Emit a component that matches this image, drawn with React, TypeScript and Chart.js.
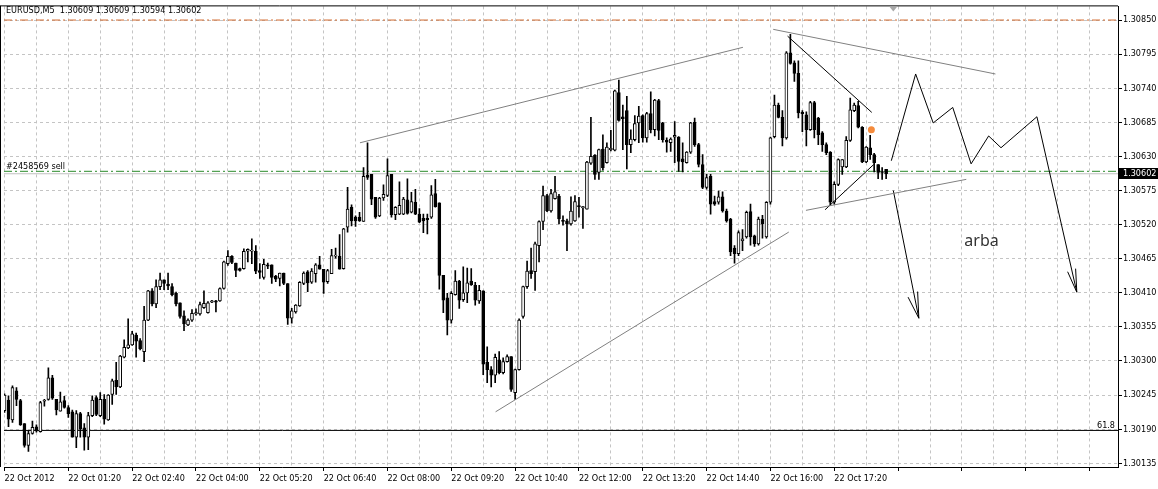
import React, { useEffect, useRef } from 'react';
import { Chart, registerables } from 'chart.js';

Chart.register(...registerables);

// ---------- texts ----------
const symbolTitle = 'EURUSD,M5  1.30609 1.30609 1.30594 1.30602';
const orderLabel = '#2458569 sell';
const noteText = 'arba';
const fibLabel = '61.8';

// ---------- candles (M5 bars, index 0 = 22 Oct 00:00) ----------
const opens = [
  1.30220,1.30237,1.30205,1.30252,1.30236,1.30199,1.30164,1.30183,1.30194,1.30186,
  1.30235,1.30238,1.30273,1.30238,1.30219,1.30236,1.30225,1.30218,1.30177,1.30215,
  1.30192,1.30177,1.30212,1.30241,1.30212,1.30238,1.30205,1.30246,1.30269,1.30258,
  1.30306,1.30321,1.30326,1.30342,1.30333,1.30315,1.30366,1.30413,1.30392,1.30420,
  1.30431,1.30424,1.30420,1.30409,1.30394,1.30373,1.30358,1.30366,1.30376,1.30376,
  1.30386,1.30378,1.30395,1.30397,1.30397,1.30417,1.30457,1.30469,1.30458,1.30449,
  1.30449,1.30477,1.30477,1.30477,1.30446,1.30435,1.30455,1.30455,1.30437,1.30433,
  1.30442,1.30425,1.30369,1.30379,1.30389,1.30425,1.30444,1.30427,1.30441,1.30455,
  1.30448,1.30428,1.30441,1.30469,1.30469,1.30449,1.30516,1.30548,1.30532,1.30532,
  1.30525,1.30600,1.30601,1.30564,1.30534,1.30563,1.30567,1.30601,1.30536,1.30537,
  1.30537,1.30560,1.30540,1.30556,1.30537,1.30530,1.30530,1.30532,1.30570,1.30555,
  1.30438,1.30402,1.30366,1.30407,1.30429,1.30399,1.30410,1.30429,1.30422,1.30397,
  1.30413,1.30298,1.30286,1.30277,1.30302,1.30281,1.30299,1.30307,1.30249,1.30286,
  1.30372,1.30420,1.30446,1.30444,1.30486,1.30525,1.30567,1.30542,1.30562,1.30566,
  1.30527,1.30526,1.30521,1.30526,1.30550,1.30547,1.30545,1.30619,1.30632,1.30604,
  1.30642,1.30620,1.30641,1.30640,1.30733,1.30694,1.30704,1.30649,1.30657,1.30684,
  1.30696,1.30660,1.30699,1.30673,1.30720,1.30684,1.30656,1.30652,1.30661,1.30661,
  1.30626,1.30620,1.30637,1.30685,1.30649,1.30617,1.30580,1.30598,1.30557,1.30556,
  1.30565,1.30542,1.30529,1.30482,1.30473,1.30494,1.30500,1.30541,1.30502,1.30489,
  1.30529,1.30500,1.30556,1.30662,1.30713,1.30693,1.30660,1.30797,1.30781,1.30764,
  1.30701,1.30697,1.30673,1.30717,1.30692,1.30668,1.30649,1.30637,1.30556,1.30585,
  1.30613,1.30613,1.30656,1.30704,1.30712,1.30677,1.30621,1.30644,1.30633,1.30617,
  1.30605,1.30609,
];
const highs = [
  1.30247,1.30244,1.30260,1.30257,1.30238,1.30199,1.30188,1.30203,1.30197,1.30235,
  1.30238,1.30289,1.30277,1.30238,1.30250,1.30243,1.30228,1.30221,1.30220,1.30217,
  1.30199,1.30217,1.30244,1.30244,1.30249,1.30246,1.30246,1.30271,1.30298,1.30309,
  1.30334,1.30368,1.30348,1.30345,1.30336,1.30388,1.30414,1.30417,1.30431,1.30442,
  1.30431,1.30442,1.30425,1.30411,1.30394,1.30381,1.30368,1.30383,1.30384,1.30395,
  1.30413,1.30396,1.30398,1.30398,1.30418,1.30461,1.30478,1.30470,1.30458,1.30450,
  1.30481,1.30481,1.30497,1.30486,1.30457,1.30464,1.30458,1.30455,1.30438,1.30442,
  1.30442,1.30425,1.30385,1.30391,1.30428,1.30444,1.30446,1.30449,1.30457,1.30469,
  1.30448,1.30448,1.30480,1.30482,1.30504,1.30514,1.30580,1.30552,1.30534,1.30540,
  1.30612,1.30652,1.30601,1.30564,1.30564,1.30584,1.30626,1.30601,1.30549,1.30589,
  1.30564,1.30594,1.30572,1.30577,1.30546,1.30537,1.30537,1.30583,1.30593,1.30555,
  1.30438,1.30409,1.30412,1.30446,1.30430,1.30452,1.30450,1.30449,1.30427,1.30422,
  1.30413,1.30323,1.30291,1.30311,1.30315,1.30305,1.30310,1.30307,1.30287,1.30368,
  1.30421,1.30461,1.30482,1.30492,1.30526,1.30582,1.30569,1.30577,1.30598,1.30569,
  1.30534,1.30529,1.30565,1.30567,1.30564,1.30549,1.30622,1.30693,1.30633,1.30642,
  1.30665,1.30652,1.30672,1.30737,1.30753,1.30713,1.30727,1.30673,1.30696,1.30711,
  1.30697,1.30701,1.30734,1.30722,1.30722,1.30685,1.30660,1.30660,1.30686,1.30662,
  1.30652,1.30638,1.30685,1.30692,1.30651,1.30633,1.30601,1.30601,1.30566,1.30574,
  1.30573,1.30545,1.30530,1.30486,1.30510,1.30512,1.30542,1.30553,1.30503,1.30532,
  1.30535,1.30557,1.30661,1.30729,1.30716,1.30704,1.30799,1.30827,1.30784,1.30784,
  1.30704,1.30702,1.30719,1.30719,1.30693,1.30670,1.30652,1.30638,1.30589,1.30626,
  1.30625,1.30662,1.30724,1.30716,1.30719,1.30678,1.30646,1.30664,1.30635,1.30617,
  1.30612,1.30609,
];
const lows = [
  1.30217,1.30194,1.30201,1.30228,1.30196,1.30161,1.30154,1.30182,1.30185,1.30185,
  1.30227,1.30237,1.30238,1.30213,1.30219,1.30224,1.30209,1.30177,1.30160,1.30177,
  1.30156,1.30157,1.30210,1.30212,1.30210,1.30198,1.30204,1.30230,1.30246,1.30257,
  1.30305,1.30320,1.30325,1.30306,1.30318,1.30299,1.30365,1.30389,1.30386,1.30415,
  1.30415,1.30415,1.30405,1.30389,1.30369,1.30349,1.30357,1.30364,1.30374,1.30374,
  1.30385,1.30377,1.30394,1.30379,1.30396,1.30416,1.30454,1.30457,1.30436,1.30445,
  1.30448,1.30460,1.30457,1.30441,1.30433,1.30432,1.30449,1.30425,1.30428,1.30421,
  1.30423,1.30359,1.30361,1.30377,1.30388,1.30423,1.30412,1.30425,1.30427,1.30448,
  1.30409,1.30425,1.30441,1.30466,1.30448,1.30448,1.30508,1.30518,1.30517,1.30525,
  1.30525,1.30593,1.30552,1.30530,1.30533,1.30559,1.30565,1.30532,1.30528,1.30536,
  1.30536,1.30537,1.30539,1.30536,1.30523,1.30507,1.30505,1.30530,1.30548,1.30416,
  1.30378,1.30342,1.30361,1.30406,1.30385,1.30396,1.30394,1.30422,1.30390,1.30393,
  1.30278,1.30265,1.30258,1.30265,1.30279,1.30279,1.30298,1.30251,1.30238,1.30285,
  1.30369,1.30417,1.30433,1.30414,1.30460,1.30512,1.30541,1.30540,1.30561,1.30521,
  1.30519,1.30478,1.30519,1.30525,1.30532,1.30514,1.30545,1.30617,1.30593,1.30593,
  1.30608,1.30619,1.30639,1.30639,1.30687,1.30641,1.30610,1.30636,1.30655,1.30652,
  1.30653,1.30653,1.30668,1.30663,1.30657,1.30653,1.30637,1.30638,1.30620,1.30606,
  1.30605,1.30619,1.30635,1.30646,1.30613,1.30578,1.30577,1.30537,1.30551,1.30553,
  1.30540,1.30524,1.30470,1.30458,1.30470,1.30478,1.30498,1.30487,1.30485,1.30487,
  1.30498,1.30498,1.30553,1.30660,1.30692,1.30647,1.30658,1.30779,1.30751,1.30692,
  1.30670,1.30647,1.30672,1.30660,1.30649,1.30638,1.30633,1.30551,1.30553,1.30583,
  1.30601,1.30612,1.30654,1.30702,1.30676,1.30620,1.30620,1.30625,1.30605,1.30594,
  1.30593,1.30594,
];
const closes = [
  1.30245,1.30206,1.30257,1.30238,1.30197,1.30164,1.30183,1.30193,1.30187,1.30233,
  1.30236,1.30273,1.30240,1.30221,1.30234,1.30225,1.30215,1.30177,1.30215,1.30190,
  1.30177,1.30212,1.30237,1.30214,1.30238,1.30206,1.30245,1.30268,1.30258,1.30308,
  1.30322,1.30326,1.30344,1.30332,1.30320,1.30366,1.30413,1.30392,1.30420,1.30431,
  1.30425,1.30421,1.30407,1.30392,1.30372,1.30360,1.30366,1.30377,1.30378,1.30391,
  1.30393,1.30394,1.30397,1.30395,1.30417,1.30460,1.30469,1.30459,1.30446,1.30446,
  1.30477,1.30480,1.30479,1.30445,1.30443,1.30456,1.30453,1.30435,1.30432,1.30442,
  1.30425,1.30369,1.30381,1.30390,1.30427,1.30442,1.30426,1.30445,1.30455,1.30448,
  1.30427,1.30446,1.30470,1.30471,1.30448,1.30513,1.30545,1.30526,1.30526,1.30526,
  1.30598,1.30596,1.30561,1.30532,1.30563,1.30569,1.30599,1.30536,1.30548,1.30551,
  1.30561,1.30538,1.30557,1.30537,1.30524,1.30526,1.30528,1.30568,1.30549,1.30438,
  1.30398,1.30366,1.30409,1.30429,1.30398,1.30410,1.30426,1.30423,1.30398,1.30414,
  1.30295,1.30286,1.30277,1.30306,1.30281,1.30299,1.30307,1.30254,1.30286,1.30366,
  1.30420,1.30445,1.30441,1.30489,1.30525,1.30567,1.30542,1.30570,1.30573,1.30529,
  1.30525,1.30521,1.30542,1.30557,1.30549,1.30549,1.30621,1.30630,1.30601,1.30641,
  1.30612,1.30645,1.30643,1.30736,1.30688,1.30691,1.30649,1.30658,1.30683,1.30695,
  1.30660,1.30699,1.30673,1.30721,1.30672,1.30657,1.30653,1.30658,1.30664,1.30622,
  1.30621,1.30637,1.30684,1.30649,1.30617,1.30580,1.30596,1.30553,1.30553,1.30565,
  1.30542,1.30526,1.30476,1.30473,1.30507,1.30497,1.30540,1.30500,1.30489,1.30529,
  1.30521,1.30556,1.30660,1.30713,1.30693,1.30660,1.30797,1.30780,1.30764,1.30700,
  1.30699,1.30673,1.30717,1.30673,1.30665,1.30649,1.30636,1.30556,1.30585,1.30625,
  1.30625,1.30656,1.30705,1.30713,1.30677,1.30621,1.30645,1.30633,1.30620,1.30604,
  1.30604,1.30602,
];

// ---------- axes ----------
const xTickLabels = [
  '22 Oct 2012', '22 Oct 01:20', '22 Oct 02:40', '22 Oct 04:00', '22 Oct 05:20',
  '22 Oct 06:40', '22 Oct 08:00', '22 Oct 09:20', '22 Oct 10:40', '22 Oct 12:00',
  '22 Oct 13:20', '22 Oct 14:40', '22 Oct 16:00', '22 Oct 17:20',
];
const barsPerLabel = 16;
const barsPerGridLine = 8;
const xMin = -0.125;
const xMax = 279.125;
const yMin = 1.30129;
const yMax = 1.30872;
const yTickValues = [
  1.30135, 1.30190, 1.30245, 1.30300, 1.30355, 1.30410, 1.30465,
  1.30520, 1.30575, 1.30630, 1.30685, 1.30740, 1.30795, 1.30850,
];

// ---------- horizontal levels ----------
const alertLevel = 1.30850;
const orderLevel = 1.30606;
const bidLevel = 1.30602;
const fibLevel = 1.30188;
const lastPrice = 1.30602;

// ---------- drawn objects (bar index, price) ----------
const upperChannel = [{ x: 89.1, y: 1.30652 }, { x: 185.1, y: 1.30806 }];
const lowerChannel = [{ x: 123.1, y: 1.30218 }, { x: 196.6, y: 1.30508 }];
const resistanceLine = [{ x: 192.7, y: 1.30835 }, { x: 248.4, y: 1.30763 }];
const supportLine = [{ x: 200.9, y: 1.30543 }, { x: 241.1, y: 1.30593 }];
const wedgeTop = [{ x: 196.3, y: 1.30824 }, { x: 217.4, y: 1.30701 }];
const wedgeBottom = [{ x: 205.7, y: 1.30544 }, { x: 217.9, y: 1.30617 }];
const forecastPath = [
  { x: 222.3, y: 1.30623 }, { x: 228.4, y: 1.30763 }, { x: 232.8, y: 1.30684 },
  { x: 237.7, y: 1.30709 }, { x: 242.3, y: 1.30618 }, { x: 246.7, y: 1.30663 },
  { x: 249.8, y: 1.30644 }, { x: 258.8, y: 1.30694 }, { x: 268.8, y: 1.30411 },
];
const forecastHeadA = [{ x: 266.5, y: 1.30444 }, { x: 268.8, y: 1.30411 }];
const forecastHeadB = [{ x: 268.5, y: 1.30449 }, { x: 268.8, y: 1.30411 }];
const dropArrow = [{ x: 222.8, y: 1.30575 }, { x: 229.2, y: 1.30369 }];
const dropHeadA = [{ x: 226.5, y: 1.30403 }, { x: 229.2, y: 1.30369 }];
const dropHeadB = [{ x: 228.9, y: 1.30412 }, { x: 229.2, y: 1.30369 }];
const signalDot = [{ x: 217.3, y: 1.30673 }];
const notePos = { x: 240.6, y: 1.30486 };
const shiftMarkerBar = 222.8;

const AXIS_FAMILY = '"DejaVu Sans Condensed", "DejaVu Sans", sans-serif';
const AXIS_FONT_SIZE = 9;

function lineDs(data: any[], color: string, order = 0, dash: number[] = []) {
  return {
    type: 'line' as const,
    data,
    borderColor: color,
    borderWidth: 1,
    borderDash: dash,
    pointRadius: 0,
    fill: false,
    tension: 0,
    order,
  };
}

const overlayPlugin = {
  id: 'mtOverlay',
  afterDraw(chart: any) {
    const { ctx, chartArea: a, scales } = chart;
    const xs = scales.x;
    const ys = scales.y;
    ctx.save();
    // frame left / top
    ctx.strokeStyle = '#000';
    ctx.lineWidth = 1;
    ctx.beginPath();
    ctx.moveTo(0.5, a.top - 0.5);
    ctx.lineTo(0.5, a.bottom);
    ctx.moveTo(0, a.top - 0.5);
    ctx.lineTo(a.right, a.top - 0.5);
    ctx.stroke();

    // header
    ctx.font = `${AXIS_FONT_SIZE}px ${AXIS_FAMILY}`;
    ctx.fillStyle = '#000';
    ctx.textAlign = 'left';
    ctx.textBaseline = 'middle';
    ctx.fillText(symbolTitle, 6, 10.5);

    // order label
    ctx.fillText(orderLabel, 6, ys.getPixelForValue(orderLevel) - 5);

    // fib label
    ctx.textAlign = 'right';
    ctx.textBaseline = 'alphabetic';
    ctx.fillText(fibLabel, a.right - 3, ys.getPixelForValue(fibLevel) - 2);

    // note text
    ctx.font = '16px "Noto Sans", sans-serif';
    ctx.fillStyle = '#333';
    ctx.textAlign = 'left';
    ctx.fillText(noteText, xs.getPixelForValue(notePos.x), ys.getPixelForValue(notePos.y));

    // shift marker triangle
    const mx = xs.getPixelForValue(shiftMarkerBar);
    ctx.fillStyle = '#a8a8a8';
    ctx.beginPath();
    ctx.moveTo(mx - 4, a.top);
    ctx.lineTo(mx + 4, a.top);
    ctx.lineTo(mx, a.top + 5);
    ctx.closePath();
    ctx.fill();

    // last price box
    const py = ys.getPixelForValue(lastPrice);
    ctx.fillStyle = '#000';
    ctx.fillRect(a.right, Math.round(py) - 6, chart.width - a.right, 11);
    ctx.fillStyle = '#fff';
    ctx.font = `${AXIS_FONT_SIZE}px ${AXIS_FAMILY}`;
    ctx.textAlign = 'left';
    ctx.textBaseline = 'middle';
    ctx.fillText(lastPrice.toFixed(5), a.right + 5, Math.round(py) - 0.5);
    ctx.restore();
  },
};

export default function App() {
  const canvasRef = useRef<HTMLCanvasElement | null>(null);

  useEffect(() => {
    document.body.style.margin = '0';
    const canvas = canvasRef.current;
    if (!canvas) return;

    const bodies = opens.map((o, i) => ({ x: i, y: [o, closes[i]] }));
    const bodyColors = opens.map((o, i) => (closes[i] >= o ? '#ffffff' : '#000000'));
    const wicks = lows.map((l, i) => ({ x: i, y: [l, highs[i]] }));
    const hLine = (v: number) => [{ x: xMin, y: v }, { x: xMax, y: v }];

    const chart = new Chart(canvas, {
      type: 'bar',
      data: {
        datasets: [
          lineDs(upperChannel, '#808080'),
          lineDs(lowerChannel, '#808080'),
          lineDs(resistanceLine, '#808080'),
          lineDs(supportLine, '#808080'),
          lineDs(wedgeTop, '#000000'),
          lineDs(wedgeBottom, '#000000'),
          lineDs(forecastPath, '#000000'),
          lineDs(forecastHeadA, '#000000'),
          lineDs(forecastHeadB, '#000000'),
          lineDs(dropArrow, '#000000'),
          lineDs(dropHeadA, '#000000'),
          lineDs(dropHeadB, '#000000'),
          {
            type: 'line' as const,
            data: signalDot,
            showLine: false,
            pointRadius: 3.5,
            pointBackgroundColor: '#f58b3c',
            pointBorderWidth: 0,
            order: 0,
          },
          {
            type: 'bar' as const,
            data: bodies as any,
            backgroundColor: bodyColors,
            borderColor: '#000000',
            borderWidth: 1,
            borderSkipped: false,
            barThickness: 3,
            grouped: false,
            minBarLength: 1,
            order: 2,
          },
          {
            type: 'bar' as const,
            data: wicks as any,
            backgroundColor: '#000000',
            borderWidth: 0,
            barThickness: 1,
            grouped: false,
            order: 3,
          },
          lineDs(hLine(alertLevel), '#d2692d', 4, [8, 3, 2, 3]),
          lineDs(hLine(orderLevel), '#2a8a2a', 4, [8, 3, 2, 3]),
          lineDs(hLine(bidLevel), '#c0c0c0', 5),
          lineDs(hLine(fibLevel), '#000000', 4),
        ] as any,
      },
      options: {
        animation: false,
        responsive: false,
        devicePixelRatio: 1,
        events: [],
        layout: { padding: { left: 1, top: 3, right: 0, bottom: 0 } },
        plugins: { legend: { display: false }, tooltip: { enabled: false } },
        scales: {
          x: {
            type: 'linear',
            min: xMin,
            max: xMax,
            offset: false,
            afterFit: (s: any) => { s.height = 22; },
            afterBuildTicks: (s: any) => {
              const t: any[] = [];
              for (let v = 0; v <= xMax; v += barsPerGridLine) t.push({ value: v });
              s.ticks = t;
            },
            grid: {
              offset: false,
              color: '#c4c4c4',
              lineWidth: 1,
              drawTicks: true,
              tickLength: 4,
              tickColor: (c: any) =>
                c.tick && c.tick.value % barsPerLabel === 0 ? '#000000' : 'rgba(0,0,0,0)',
            },
            border: { display: true, color: '#000000', width: 1, dash: [3, 3] },
            ticks: {
              autoSkip: false,
              maxRotation: 0,
              minRotation: 0,
              align: 'start',
              padding: 2,
              color: '#000000',
              font: { family: AXIS_FAMILY, size: AXIS_FONT_SIZE },
              callback: (v: any) =>
                Number(v) % barsPerLabel === 0 ? xTickLabels[Number(v) / barsPerLabel] ?? '' : '',
            },
          },
          y: {
            type: 'linear',
            position: 'right',
            min: yMin,
            max: yMax,
            afterFit: (s: any) => { s.width = 40; },
            afterBuildTicks: (s: any) => {
              s.ticks = yTickValues.map((v) => ({ value: v }));
            },
            grid: {
              color: '#c4c4c4',
              lineWidth: 1,
              drawTicks: true,
              tickLength: 4,
              tickColor: '#000000',
            },
            border: { display: true, color: '#000000', width: 1, dash: [3, 3] },
            ticks: {
              padding: 1,
              color: '#000000',
              autoSkip: false,
              font: { family: AXIS_FAMILY, size: AXIS_FONT_SIZE },
              callback: (v: any) => Number(v).toFixed(5),
            },
          },
        },
      } as any,
      plugins: [overlayPlugin],
    });

    return () => chart.destroy();
  }, []);

  return (
    <div style={{ position: 'fixed', left: 0, top: 0, width: 1158, height: 489, background: '#fff' }}>
      <canvas ref={canvasRef} width={1158} height={489} style={{ display: 'block' }} />
    </div>
  );
}
